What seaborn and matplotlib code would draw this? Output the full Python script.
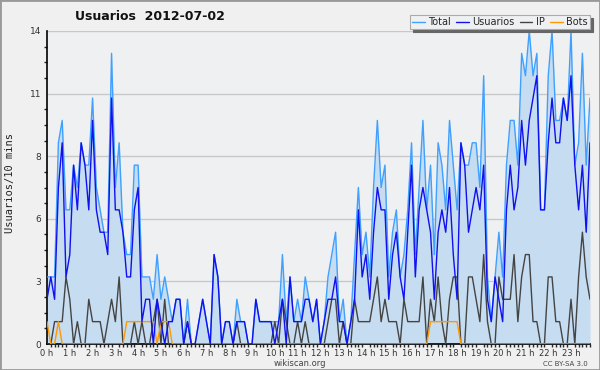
import numpy as np
import matplotlib
matplotlib.use('Agg')
import matplotlib.pyplot as plt
import seaborn as sns
from matplotlib.patches import Rectangle
from matplotlib.ticker import MultipleLocator, FixedLocator

# Users per 10 minutes on 2012-07-02 (144 slots, 0h..23h50)
usuarios = [2, 3, 2, 7, 9, 3, 4, 8, 6, 9, 8, 6,
            10, 6, 5, 5, 4, 11, 6, 6, 5, 3, 3, 6,
            7, 1, 2, 2, 0, 2, 1, 0, 1, 1, 2, 2,
            0, 1, 0, 0, 1, 2, 1, 0, 4, 3, 0, 1,
            1, 0, 1, 1, 1, 0, 0, 2, 1, 1, 1, 1,
            0, 1, 2, 0, 3, 1, 1, 1, 2, 2, 1, 2,
            0, 1, 2, 2, 3, 1, 1, 0, 1, 2, 6, 3,
            4, 2, 5, 7, 6, 6, 2, 4, 5, 3, 2, 5,
            8, 3, 6, 7, 6, 5, 2, 5, 6, 5, 7, 4,
            2, 9, 8, 5, 6, 7, 6, 8, 2, 1, 3, 2,
            1, 6, 8, 6, 7, 10, 8, 10, 11, 12, 6, 6,
            9, 11, 9, 9, 11, 10, 12, 8, 6, 8, 5, 9]

ip = [0, 0, 1, 1, 1, 3, 2, 0, 1, 0, 0, 2,
      1, 1, 1, 0, 1, 2, 1, 3, 0, 0, 0, 1,
      0, 1, 0, 0, 1, 2, 0, 2, 0, 0, 0, 0,
      0, 1, 0, 0, 0, 0, 0, 0, 0, 0, 0, 0,
      0, 0, 1, 0, 0, 0, 0, 0, 0, 0, 0, 0,
      1, 0, 2, 1, 0, 0, 1, 0, 1, 0, 0, 0,
      0, 0, 1, 2, 2, 0, 1, 0, 0, 2, 1, 1,
      1, 1, 2, 3, 1, 2, 1, 1, 1, 0, 2, 1,
      1, 1, 1, 3, 0, 2, 1, 3, 1, 0, 2, 3,
      3, 0, 0, 3, 3, 2, 1, 4, 1, 0, 0, 3,
      2, 2, 2, 4, 1, 3, 4, 4, 1, 1, 0, 0,
      3, 3, 1, 1, 0, 0, 2, 0, 3, 5, 3, 2]

bots = [1, 0, 0, 1, 0, 0, 0, 0, 0, 0, 0, 0,
        0, 0, 0, 0, 0, 0, 0, 0, 0, 1, 1, 1,
        1, 1, 1, 1, 1, 0, 1, 1, 1, 0, 0, 0,
        0, 0, 0, 0, 0, 0, 0, 0, 0, 0, 0, 0,
        0, 0, 0, 0, 0, 0, 0, 0, 0, 0, 0, 0,
        0, 0, 0, 0, 0, 0, 0, 0, 0, 0, 0, 0,
        0, 0, 0, 0, 0, 0, 0, 0, 0, 0, 0, 0,
        0, 0, 0, 0, 0, 0, 0, 0, 0, 0, 0, 0,
        0, 0, 0, 0, 0, 1, 1, 1, 1, 1, 1, 1,
        1, 0, 0, 0, 0, 0, 0, 0, 0, 0, 0, 0,
        0, 0, 0, 0, 0, 0, 0, 0, 0, 0, 0, 0,
        0, 0, 0, 0, 0, 0, 0, 0, 0, 0, 0, 0]

total = [3, 3, 3, 9, 10, 6, 6, 8, 7, 9, 8, 8,
         11, 7, 6, 5, 5, 13, 7, 9, 5, 4, 4, 8,
         8, 3, 3, 3, 2, 4, 2, 3, 2, 1, 2, 2,
         0, 2, 0, 0, 1, 2, 1, 0, 4, 3, 0, 1,
         1, 0, 2, 1, 1, 0, 0, 2, 1, 1, 1, 1,
         1, 1, 4, 1, 3, 1, 2, 1, 3, 2, 1, 2,
         0, 1, 3, 4, 5, 1, 2, 0, 1, 4, 7, 4,
         5, 3, 7, 10, 7, 8, 3, 5, 6, 3, 4, 6,
         9, 4, 7, 10, 6, 8, 4, 9, 8, 6, 10, 8,
         6, 9, 8, 8, 9, 9, 7, 12, 3, 1, 3, 5,
         3, 8, 10, 10, 8, 13, 12, 14, 12, 13, 6, 6,
         12, 14, 10, 10, 11, 10, 14, 8, 9, 13, 8, 11]

hour_labels = [f'{h} h' for h in range(24)]
slots = np.arange(len(total))

sns.set_theme(style='white', rc={
    'axes.facecolor': '#eef0f2',
    'figure.facecolor': '#f0f0f0',
    'axes.edgecolor': 'black',
})
plt.rcParams['font.family'] = ['DejaVu Sans']

fig = plt.figure(figsize=(6, 3.7), dpi=100)
ax = fig.add_axes([47 / 600, 26 / 370, 543 / 600, 313 / 370])

ax.fill_between(slots, total, color='#c6dcf0', zorder=1, lw=0)
sns.lineplot(x=slots, y=total, color='#3fa0ff', lw=1.0, ax=ax, label='Total', zorder=3)
sns.lineplot(x=slots, y=usuarios, color='#1010f0', lw=1.0, ax=ax, label='Usuarios', zorder=4)
sns.lineplot(x=slots, y=ip, color='#444444', lw=1.0, ax=ax, label='IP', zorder=3)
sns.lineplot(x=slots, y=bots, color='#ff9900', lw=1.0, ax=ax, label='Bots', zorder=3)

ax.set_xlim(0, len(total) - 1)
ax.set_ylim(0, 14)

# y ticks: 5 equal steps, labels rounded like the original
yt = np.linspace(0, 14, 6)
ax.yaxis.set_major_locator(FixedLocator(yt))
ax.set_yticklabels([f'{v:.0f}' for v in yt])
ax.yaxis.set_minor_locator(MultipleLocator(0.7))
ax.yaxis.grid(True, color='#c8c8c8', lw=1)
ax.set_axisbelow(True)

ax.xaxis.set_major_locator(FixedLocator(np.arange(0, 144, 6)))
ax.set_xticklabels(hour_labels)
ax.xaxis.set_minor_locator(MultipleLocator(1))

ax.tick_params(axis='both', which='major', direction='out', length=3, width=1,
               labelsize=6, pad=0.5, colors='black')
ax.tick_params(axis='both', which='minor', direction='out', length=2.5, width=1,
               bottom=True, left=True)
ax.tick_params(axis='x', labelcolor='#333333')
ax.tick_params(axis='y', labelcolor='#333333', labelsize=6.5, pad=1)

for s in ['top', 'right']:
    ax.spines[s].set_visible(False)
for s in ['left', 'bottom']:
    ax.spines[s].set_linewidth(1.2)

ax.set_xlabel('')
ax.set_ylabel('')
ax.get_legend().remove()

fig.text(0.017, 1 - 183 / 370, 'Usuarios/10 mins', rotation=90, va='center', ha='center',
         fontsize=7.5, family='DejaVu Sans Mono', color='#222222')
fig.text(150 / 600, 1 - 17 / 370, 'Usuarios  2012-07-02', ha='center', va='center',
         fontsize=9, fontweight='bold', color='#111111')
fig.text(0.5, 1 - 364 / 370, 'wikiscan.org', ha='center', va='center',
         fontsize=6, color='#444444')
fig.text(588 / 600, 1 - 364 / 370, 'CC BY-SA 3.0', ha='right', va='center',
         fontsize=5, color='#444444')

handles, labels = ax.get_legend_handles_labels()
leg = fig.legend(handles, labels, loc='upper right', bbox_to_anchor=(590 / 600, 1 - 15 / 370),
                 ncol=4, fontsize=7, frameon=True, fancybox=False, framealpha=1,
                 edgecolor='#aaaaaa', handlelength=1.3, handletextpad=0.4,
                 columnspacing=0.5, borderpad=0.2, borderaxespad=0,
                 shadow={'color': '#666666', 'alpha': 1})
leg.get_frame().set_linewidth(0.8)

fig.patches.append(Rectangle((0, 0), 1, 1, transform=fig.transFigure, fill=False,
                             edgecolor='#999999', lw=2))

fig.savefig('out.png', dpi=100)
